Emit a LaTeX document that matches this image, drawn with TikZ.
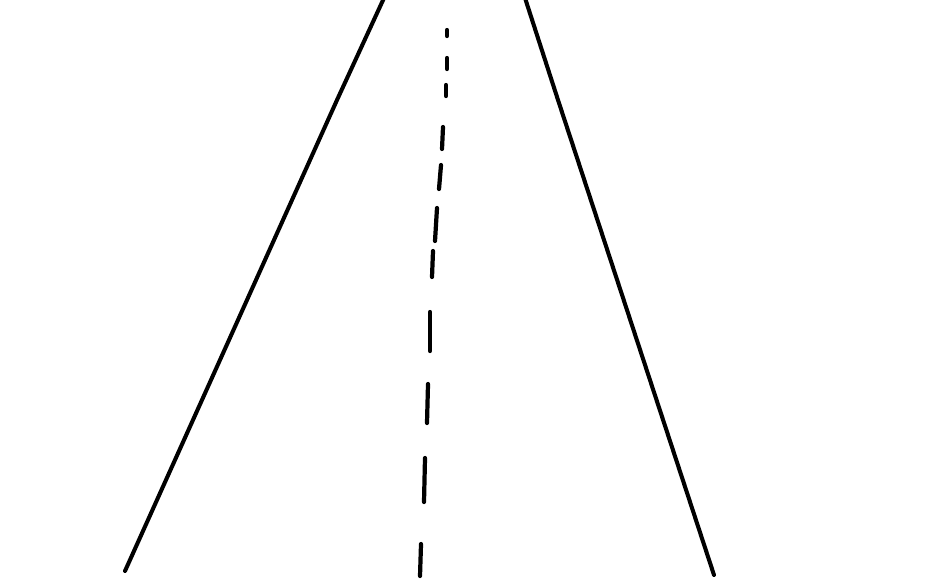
\documentclass[tikz,border=0pt]{standalone}
\usepackage{tikz}

\begin{document}
\begin{tikzpicture}[x=0.02cm, y=-0.02cm,
      edge/.style={draw, line width=2.3pt, line cap=round, line join=round},
      lane/.style={draw, line width=2.4pt, line cap=round}]

    \useasboundingbox (0,0) rectangle (945,579);

    % road sides
    \coordinate (lt) at (384,-2);
    \coordinate (lm) at (337,100);
    \coordinate (lb) at (125,571);
    \coordinate (rt) at (525,-2);
    \coordinate (rm) at (558,100);
    \coordinate (rn) at (604,240);
    \coordinate (rb) at (714,575);
    \draw[edge] (lt) -- (lm) -- (lb);
    \draw[edge] (rt) -- (rm) -- (rn) -- (rb);

    % centre line
    \foreach \xa/\ya/\xb/\yb in {447/30/447/36, 447/58/447/69, 446/85/446/96,
        443/127/442/149, 441/165/439/189, 437/208/435/241, 433/251/432/277,
        430/312/430/351, 428/384/427/423, 425/458/424/502, 421/544/420/576}
      \draw[lane] (\xa,\ya) -- (\xb,\yb);
  \end{tikzpicture}
\end{document}
